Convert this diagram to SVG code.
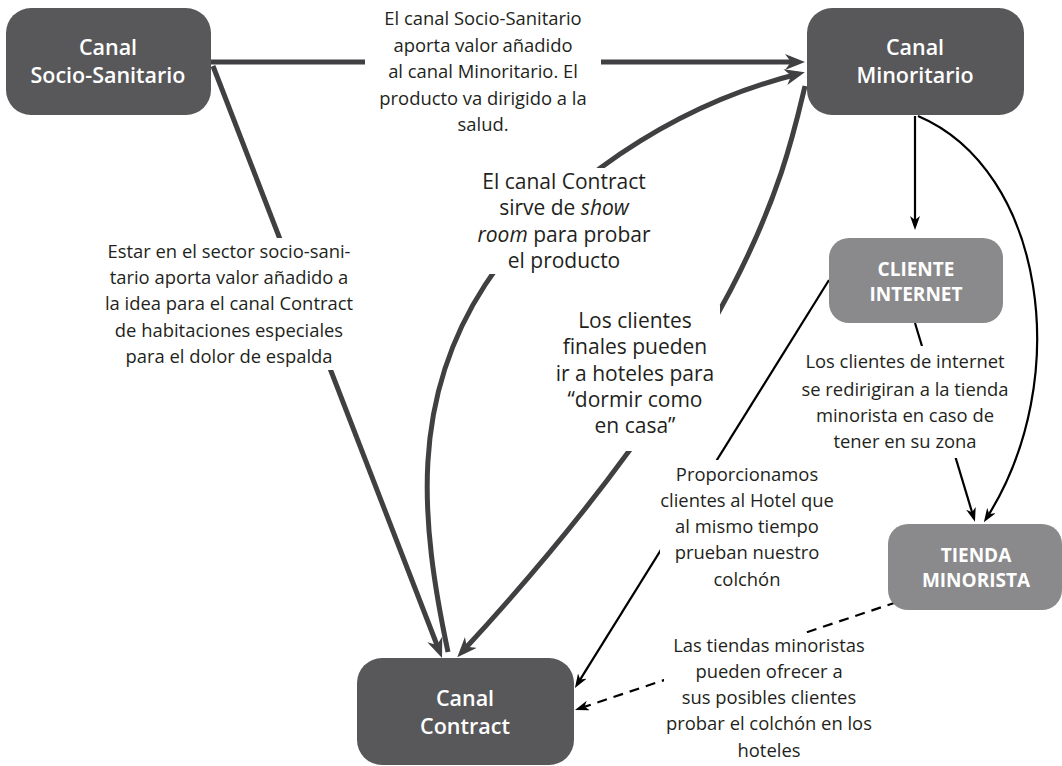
<svg xmlns="http://www.w3.org/2000/svg" width="1062" height="766" viewBox="0 0 1062 766">
<defs>
<style>
.dark{fill:#58585a}
.light{fill:#8a8a8c}
.nt{font-family:"Open Sans","Liberation Sans",sans-serif;font-weight:600;fill:#ffffff;text-anchor:middle}
.nt1{font-size:21.5px}
.nt2{font-size:19px;font-weight:bold}
.thick{fill:none;stroke:#404042;stroke-width:5}
.thin{fill:none;stroke:#000000;stroke-width:2.2}
.dash{stroke-dasharray:10 7}
.lb{font-family:"Open Sans","Liberation Sans",sans-serif;font-size:18.4px;fill:#231f20;text-anchor:middle}
.lb2{font-size:21px}
.bg{fill:#ffffff}
</style>
<marker id="ah" viewBox="0 0 20 16" refX="13" refY="8" markerWidth="20" markerHeight="16" markerUnits="userSpaceOnUse" orient="auto">
<path d="M0,0 L20,8 L0,16 L6,8 z" fill="#404042"/>
</marker>
<marker id="at" viewBox="0 0 14 10" refX="10" refY="5" markerWidth="14" markerHeight="10" markerUnits="userSpaceOnUse" orient="auto">
<path d="M0,0 L14,5 L0,10 L4,5 z" fill="#000000"/>
</marker>
</defs>
<rect width="1062" height="766" fill="#ffffff"/>
<g id="connectors">
<path class="thick" d="M211,62 L798,62" marker-end="url(#ah)"/>
<path class="thick" d="M213,66 L439.5,651.5" marker-end="url(#ah)"/>
<path class="thick" d="M448,652 C420,520 410,400 485,285 C530,215 645,112 798,74" marker-end="url(#ah)"/>
<path class="thick" d="M805,86 C785,170 750,340 462,652" marker-end="url(#ah)"/>
<path class="thin" d="M915,116 L915,226" marker-end="url(#at)"/>
<path class="thin" d="M918,116 C1045,170 1075,380 986,519" marker-end="url(#at)"/>
<path class="thin" d="M915,323 L973.8,518" marker-end="url(#at)"/>
<path class="thin" d="M829,280 L577,684.6" marker-end="url(#at)"/>
<path class="thin dash" d="M897,602 L578.8,708.7" marker-end="url(#at)"/>
</g>
<g id="labels">
<g id="label-ss-min">
<rect class="bg" x="365" y="4" width="236" height="133"/>
<text class="lb"><tspan x="483" y="25">El canal Socio-Sanitario</tspan><tspan x="483" y="51.5">aporta valor añadido</tspan><tspan x="483" y="78">al canal Minoritario. El</tspan><tspan x="483" y="104.5">producto va dirigido a la</tspan><tspan x="483" y="131">salud.</tspan></text>
</g>
<g id="label-ss-con">
<rect class="bg" x="98" y="238" width="264" height="132"/>
<text class="lb"><tspan x="229" y="258">Estar en el sector socio-sani-</tspan><tspan x="229" y="284">tario aporta valor añadido a</tspan><tspan x="229" y="310">la idea para el canal Contract</tspan><tspan x="229" y="337">de habitaciones especiales</tspan><tspan x="229" y="363">para el dolor de espalda</tspan></text>
</g>
<g id="label-con-min">
<rect class="bg" x="474" y="168" width="182" height="106"/>
<text class="lb lb2"><tspan x="564" y="189">El canal Contract</tspan><tspan x="564" y="215">sirve de <tspan font-style="italic">show</tspan></tspan><tspan x="564" y="242"><tspan font-style="italic">room</tspan> para probar</tspan><tspan x="564" y="268">el producto</tspan></text>
</g>
<g id="label-min-con">
<rect class="bg" x="552" y="305" width="168" height="146"/>
<text class="lb lb2"><tspan x="635" y="328">Los clientes</tspan><tspan x="635" y="354">finales pueden</tspan><tspan x="635" y="381">ir a hoteles para</tspan><tspan x="635" y="407">“dormir como</tspan><tspan x="635" y="433">en casa”</tspan></text>
</g>
<g id="label-ci-ti">
<rect class="bg" x="798" y="346" width="215" height="112"/>
<text class="lb"><tspan x="905" y="368">Los clientes de internet</tspan><tspan x="905" y="396">se redirigiran a la tienda</tspan><tspan x="905" y="422">minorista en caso de</tspan><tspan x="905" y="448">tener en su zona</tspan></text>
</g>
<g id="label-ci-con">
<rect class="bg" x="660" y="460" width="176" height="134"/>
<text class="lb"><tspan x="747" y="481">Proporcionamos</tspan><tspan x="747" y="507">clientes al Hotel que</tspan><tspan x="747" y="533">al mismo tiempo</tspan><tspan x="747" y="559">prueban nuestro</tspan><tspan x="747" y="586">colchón</tspan></text>
</g>
<g id="label-ti-con">
<rect class="bg" x="664" y="633" width="212" height="133"/>
<text class="lb"><tspan x="769" y="652">Las tiendas minoristas</tspan><tspan x="769" y="678">pueden ofrecer a</tspan><tspan x="769" y="704">sus posibles clientes</tspan><tspan x="769" y="730">probar el colchón en los</tspan><tspan x="769" y="757">hoteles</tspan></text>
</g>
</g>
<g id="node-socio-sanitario">
<rect class="dark" x="6" y="8" width="205" height="107" rx="25"/>
<text class="nt nt1"><tspan x="108" y="55">Canal</tspan><tspan x="108" y="83">Socio-Sanitario</tspan></text>
</g>
<g id="node-minoritario">
<rect class="dark" x="807" y="8" width="217" height="107" rx="25"/>
<text class="nt nt1"><tspan x="915" y="55">Canal</tspan><tspan x="915" y="83">Minoritario</tspan></text>
</g>
<g id="node-contract">
<rect class="dark" x="357" y="658" width="217" height="107" rx="25"/>
<text class="nt nt1"><tspan x="465" y="706">Canal</tspan><tspan x="465" y="734">Contract</tspan></text>
</g>
<g id="node-cliente-internet">
<rect class="light" x="829" y="238" width="174" height="85" rx="20"/>
<text class="nt nt2"><tspan x="916" y="276">CLIENTE</tspan><tspan x="916" y="301">INTERNET</tspan></text>
</g>
<g id="node-tienda">
<rect class="light" x="888" y="524" width="174" height="86" rx="20"/>
<text class="nt nt2"><tspan x="976" y="562">TIENDA</tspan><tspan x="976" y="587">MINORISTA</tspan></text>
</g>
</svg>
